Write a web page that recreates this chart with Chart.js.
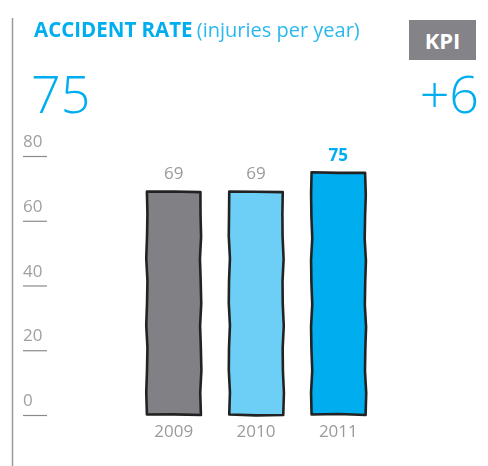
<!DOCTYPE html>
<html>
<head>
<meta charset="utf-8">
<script src="https://cdn.jsdelivr.net/npm/chart.js@4"></script>
<style>
  html, body { margin: 0; padding: 0; background: #fff; }
  #wrap { position: relative; width: 488px; height: 466px; overflow: hidden; font-family: "Open Sans", sans-serif; }
  #chart { position: absolute; left: 0; top: 0; }
  .title { position: absolute; left: 34px; top: 15px; color: #00aeef; white-space: nowrap; }
  .title b { font-weight: 700; font-size: 20.5px; }
  .title span { font-weight: 400; font-size: 20px; color: #2bb8ee; }
  .kpi { position: absolute; left: 409px; top: 20px; width: 67px; height: 40px; background: #848488; color: #fff;
         font-weight: 700; font-size: 22px; line-height: 40px; text-align: center; }
  .big { position: absolute; top: 58px; font-size: 52px; font-weight: 300; color: #00aeef; line-height: 70px; }
</style>
</head>
<body>
<div id="wrap">
  <canvas id="chart" width="488" height="466"></canvas>
  <div class="title"><b>ACCIDENT RATE</b> <span>(injuries per year)</span></div>
  <div class="kpi">KPI</div>
  <div class="big" style="left:31px">75</div>
  <div class="big" style="right:9px">+6</div>
</div>
<script>
const years = ['2009', '2010', '2011'];
const injuries = [69, 69, 75];
const barColors = ['#808085', '#6dcff6', '#00aeef'];
const yTicks = [0, 20, 40, 60, 80];

// hand-drawn outline around each bar
function sketchLine(ctx, x1, y1, x2, y2, seed) {
  const len = Math.hypot(x2 - x1, y2 - y1);
  const n = Math.max(2, Math.round(len / 22));
  const nx = -(y2 - y1) / len, ny = (x2 - x1) / len;
  for (let i = 1; i <= n; i++) {
    const t = i / n;
    const w = i === n ? 0 : Math.sin(seed * 3.7 + i * 2.1) * 0.7;
    ctx.lineTo(x1 + (x2 - x1) * t + nx * w, y1 + (y2 - y1) * t + ny * w);
  }
}

const sketchPlugin = {
  id: 'sketch',
  afterDatasetsDraw(chart) {
    const ctx = chart.ctx;
    const meta = chart.getDatasetMeta(0);
    const y = chart.scales.y;
    ctx.save();

    // left rule
    ctx.strokeStyle = '#9a9a9a';
    ctx.lineWidth = 1.5;
    ctx.beginPath();
    ctx.moveTo(12.5, 18);
    ctx.lineTo(12.5, 466);
    ctx.stroke();

    // y tick labels with underline
    ctx.font = '17px "Open Sans", sans-serif';
    ctx.fillStyle = '#a0a0a0';
    ctx.textAlign = 'left';
    ctx.textBaseline = 'alphabetic';
    yTicks.forEach(v => {
      const py = y.getPixelForValue(v);
      ctx.fillText(String(v), 23, py - 9);
      ctx.strokeStyle = '#8a8a8a';
      ctx.lineWidth = 1.2;
      ctx.beginPath();
      ctx.moveTo(23, py + 0.5);
      ctx.lineTo(47, py + 0.5);
      ctx.stroke();
    });

    // bar outlines
    ctx.strokeStyle = '#222';
    ctx.lineWidth = 2.6;
    ctx.lineJoin = 'round';
    meta.data.forEach((bar, i) => {
      const l = bar.x - bar.width / 2, r = bar.x + bar.width / 2;
      const t = bar.y, b = bar.base;
      ctx.beginPath();
      ctx.moveTo(l, t);
      sketchLine(ctx, l, t, r, t + 0.5, i + 1);
      sketchLine(ctx, r, t + 0.5, r + 0.5, b, i + 2);
      sketchLine(ctx, r + 0.5, b, l, b - 0.5, i + 3);
      sketchLine(ctx, l, b - 0.5, l, t, i + 4);
      ctx.closePath();
      ctx.stroke();
    });

    // value labels and year labels
    ctx.textAlign = 'center';
    meta.data.forEach((bar, i) => {
      const last = i === injuries.length - 1;
      ctx.font = (last ? '700 17px' : '17px') + ' "Open Sans", sans-serif';
      ctx.fillStyle = last ? '#00aeef' : '#9a9a9a';
      ctx.fillText(String(injuries[i]), bar.x, bar.y - (last ? 11 : 13));
      ctx.font = '17px "Open Sans", sans-serif';
      ctx.fillStyle = '#9a9a9a';
      ctx.fillText(years[i], bar.x, bar.base + 22);
    });
    ctx.restore();
  }
};

new Chart(document.getElementById('chart'), {
  type: 'bar',
  data: {
    labels: years,
    datasets: [{
      data: injuries,
      backgroundColor: barColors,
      borderWidth: 0,
      barPercentage: 0.65,
      categoryPercentage: 1
    }]
  },
  options: {
    responsive: false,
    animation: false,
    layout: { padding: { left: 132.5, right: 108.5, top: 156, bottom: 51 } },
    plugins: { legend: { display: false }, tooltip: { enabled: false } },
    scales: {
      x: { display: false },
      y: { display: false, min: 0, max: 80 }
    }
  },
  plugins: [sketchPlugin]
});
</script>
</body>
</html>
